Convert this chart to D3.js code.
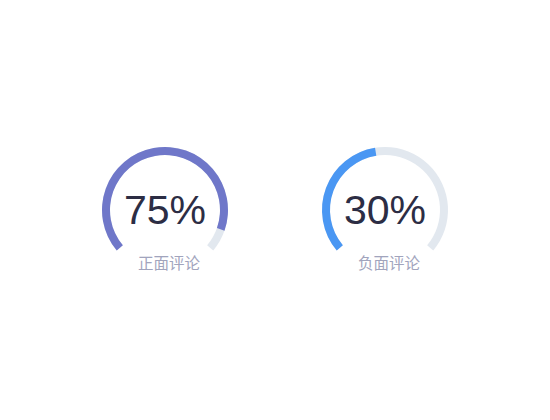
<!DOCTYPE html>
<html>
<head>
<meta charset="utf-8">
<script src="https://cdn.jsdelivr.net/npm/d3@7/dist/d3.min.js"></script>
<style>
  html, body { margin: 0; padding: 0; background: #ffffff; }
  svg { display: block; }
</style>
</head>
<body>
<div id="chart"></div>
<script>
// ---- data ----
const categories = ["正面评论", "负面评论"];
const labelPercents = [75, 30];          // numbers printed in the centre
const arcFill = [92, 46.5];              // share of the track that is coloured (%)
const colors = ["#6f77c9", "#4a97f3"];

const W = 550, H = 420;
const svg = d3.select("#chart").append("svg")
  .attr("width", W).attr("height", H);

const cx = d3.scalePoint().domain(categories).range([165, 385]);
const cy = 210;
const angle = d3.scaleLinear().domain([0, 100])
  .range([-130 * Math.PI / 180, 130 * Math.PI / 180]);

const arc = d3.arc().innerRadius(55).outerRadius(63);

const g = svg.selectAll("g.gauge")
  .data(categories.map((c, i) => ({ c, label: labelPercents[i], fill: arcFill[i], color: colors[i] })))
  .join("g")
  .attr("class", "gauge")
  .attr("transform", d => `translate(${cx(d.c)},${cy})`);

g.append("path")
  .attr("d", () => arc({ startAngle: angle(0), endAngle: angle(100) }))
  .attr("fill", "#e2e8ef");

g.append("path")
  .attr("d", d => arc({ startAngle: angle(0), endAngle: angle(d.fill) }))
  .attr("fill", d => d.color);

g.append("text")
  .attr("x", 0).attr("y", 14)
  .attr("text-anchor", "middle")
  .attr("font-family", "'Liberation Sans', Arial, Helvetica, sans-serif")
  .attr("font-size", 41)
  .attr("fill", "#2c2d44")
  .text(d => d.label + "%");

g.append("text")
  .attr("x", 4).attr("y", 59)
  .attr("text-anchor", "middle")
  .attr("font-family", "'Noto Sans CJK SC', sans-serif")
  .attr("font-size", 15.5)
  .attr("fill", "#a1a4bd")
  .text(d => d.c);
</script>
</body>
</html>
